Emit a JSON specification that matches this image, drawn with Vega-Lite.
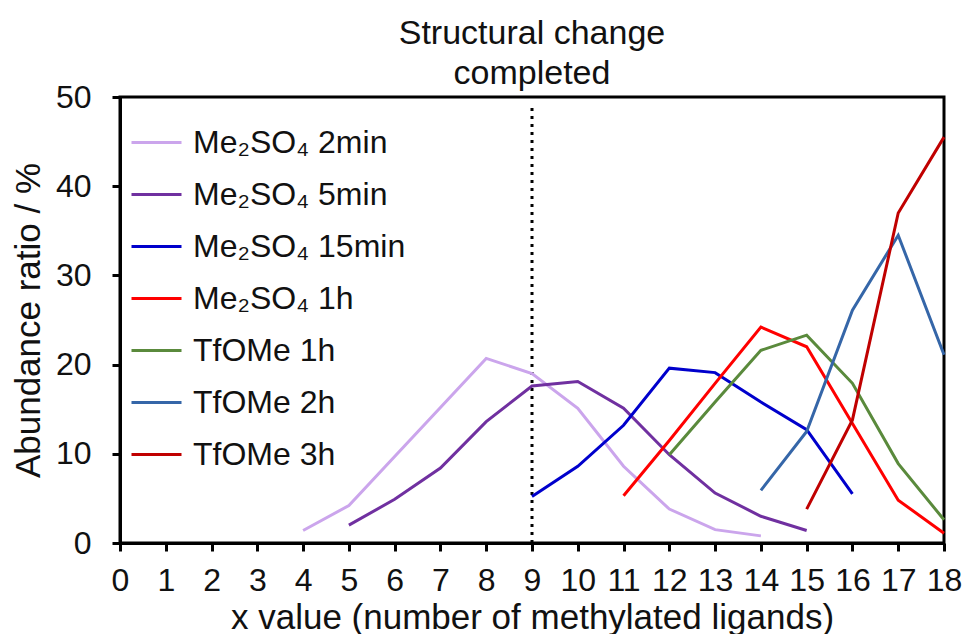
{
  "$schema": "https://vega.github.io/schema/vega-lite/v6.json",
  "width": 824,
  "height": 446,
  "autosize": {"type": "none"},
  "padding": {"left": 120, "top": 97, "right": 20, "bottom": 91},
  "background": "white",
  "config": {
    "font": "Liberation Sans",
    "view": {"stroke": "black", "strokeWidth": 3},
    "axis": {
      "grid": false,
      "domainColor": "black",
      "domainWidth": 3,
      "tickColor": "black",
      "tickWidth": 3,
      "tickSize": 8,
      "labelFont": "Liberation Sans",
      "labelFontSize": 32,
      "labelColor": "#111",
      "titleFont": "Liberation Sans",
      "titleFontSize": 35,
      "titleFontWeight": "normal",
      "titleColor": "#111"
    },
    "legend": {
      "labelFont": "Liberation Sans",
      "labelFontSize": 32,
      "labelColor": "#111",
      "labelLimit": 500
    }
  },
  "datasets": {
    "abundance": [
      {"series": "Me₂SO₄ 2min", "x": 4, "y": 1.4},
      {"series": "Me₂SO₄ 2min", "x": 5, "y": 4.2},
      {"series": "Me₂SO₄ 2min", "x": 6, "y": 9.7},
      {"series": "Me₂SO₄ 2min", "x": 7, "y": 15.2},
      {"series": "Me₂SO₄ 2min", "x": 8, "y": 20.7},
      {"series": "Me₂SO₄ 2min", "x": 9, "y": 19.0},
      {"series": "Me₂SO₄ 2min", "x": 10, "y": 15.1},
      {"series": "Me₂SO₄ 2min", "x": 11, "y": 8.6},
      {"series": "Me₂SO₄ 2min", "x": 12, "y": 3.8},
      {"series": "Me₂SO₄ 2min", "x": 13, "y": 1.5},
      {"series": "Me₂SO₄ 2min", "x": 14, "y": 0.8},
      {"series": "Me₂SO₄ 5min", "x": 5, "y": 2.0},
      {"series": "Me₂SO₄ 5min", "x": 6, "y": 4.9},
      {"series": "Me₂SO₄ 5min", "x": 7, "y": 8.4},
      {"series": "Me₂SO₄ 5min", "x": 8, "y": 13.6},
      {"series": "Me₂SO₄ 5min", "x": 9, "y": 17.6},
      {"series": "Me₂SO₄ 5min", "x": 10, "y": 18.1},
      {"series": "Me₂SO₄ 5min", "x": 11, "y": 15.1},
      {"series": "Me₂SO₄ 5min", "x": 12, "y": 9.9},
      {"series": "Me₂SO₄ 5min", "x": 13, "y": 5.6},
      {"series": "Me₂SO₄ 5min", "x": 14, "y": 3.0},
      {"series": "Me₂SO₄ 5min", "x": 15, "y": 1.4},
      {"series": "Me₂SO₄ 15min", "x": 9, "y": 5.2},
      {"series": "Me₂SO₄ 15min", "x": 10, "y": 8.6},
      {"series": "Me₂SO₄ 15min", "x": 11, "y": 13.2},
      {"series": "Me₂SO₄ 15min", "x": 12, "y": 19.6},
      {"series": "Me₂SO₄ 15min", "x": 13, "y": 19.1},
      {"series": "Me₂SO₄ 15min", "x": 14, "y": 15.8},
      {"series": "Me₂SO₄ 15min", "x": 15, "y": 12.7},
      {"series": "Me₂SO₄ 15min", "x": 16, "y": 5.5},
      {"series": "Me₂SO₄ 1h", "x": 11, "y": 5.3},
      {"series": "Me₂SO₄ 1h", "x": 12, "y": 11.5},
      {"series": "Me₂SO₄ 1h", "x": 13, "y": 17.9},
      {"series": "Me₂SO₄ 1h", "x": 14, "y": 24.2},
      {"series": "Me₂SO₄ 1h", "x": 15, "y": 22.0},
      {"series": "Me₂SO₄ 1h", "x": 16, "y": 13.4},
      {"series": "Me₂SO₄ 1h", "x": 17, "y": 4.8},
      {"series": "Me₂SO₄ 1h", "x": 18, "y": 1.1},
      {"series": "TfOMe  1h", "x": 12, "y": 9.9},
      {"series": "TfOMe  1h", "x": 13, "y": 15.8},
      {"series": "TfOMe  1h", "x": 14, "y": 21.6},
      {"series": "TfOMe  1h", "x": 15, "y": 23.3},
      {"series": "TfOMe  1h", "x": 16, "y": 17.9},
      {"series": "TfOMe  1h", "x": 17, "y": 8.9},
      {"series": "TfOMe  1h", "x": 18, "y": 2.6},
      {"series": "TfOMe  2h", "x": 14, "y": 5.9},
      {"series": "TfOMe  2h", "x": 15, "y": 12.5},
      {"series": "TfOMe  2h", "x": 16, "y": 26.1},
      {"series": "TfOMe  2h", "x": 17, "y": 34.5},
      {"series": "TfOMe  2h", "x": 18, "y": 21.1},
      {"series": "TfOMe  3h", "x": 15, "y": 3.8},
      {"series": "TfOMe  3h", "x": 16, "y": 13.8},
      {"series": "TfOMe  3h", "x": 17, "y": 37.0},
      {"series": "TfOMe  3h", "x": 18, "y": 45.5}
    ]
  },
  "layer": [
    {
      "data": {"values": [{"x": 9, "y0": 0, "y1": 49.2}]},
      "mark": {"type": "rule", "color": "black", "strokeWidth": 3, "strokeDash": [3, 5]},
      "encoding": {
        "x": {"field": "x", "type": "quantitative"},
        "y": {"field": "y0", "type": "quantitative"},
        "y2": {"field": "y1"}
      }
    },
    {
      "data": {"name": "abundance"},
      "mark": {"type": "line", "strokeWidth": 3, "clip": false},
      "encoding": {
        "x": {
          "field": "x",
          "type": "quantitative",
          "scale": {"domain": [0, 18], "nice": false},
          "axis": {
            "values": [0,1,2,3,4,5,6,7,8,9,10,11,12,13,14,15,16,17,18],
            "labelPadding": 14,
            "title": "x value (number of methylated ligands)",
            "titlePadding": 4,
            "labelFlush": false,
            "labelOverlap": false
          }
        },
        "y": {
          "field": "y",
          "type": "quantitative",
          "scale": {"domain": [0, 50], "nice": false},
          "axis": {
            "values": [0, 10, 20, 30, 40, 50],
            "labelPadding": 21,
            "title": "Abundance ratio / %",
            "titlePadding": 9,
            "labelFlush": false
          }
        },
        "color": {
          "field": "series",
          "type": "nominal",
          "scale": {
            "domain": ["Me₂SO₄ 2min", "Me₂SO₄ 5min", "Me₂SO₄ 15min", "Me₂SO₄ 1h", "TfOMe  1h", "TfOMe  2h", "TfOMe  3h"],
            "range": ["#cba5ec", "#7030a0", "#0000cc", "#ff0000", "#5a8a3c", "#3566a8", "#c00000"]
          },
          "legend": {
            "title": null,
            "orient": "none",
            "legendX": 10,
            "legendY": 19,
            "symbolType": "stroke",
            "symbolSize": 2500,
            "symbolStrokeWidth": 3,
            "labelOffset": 10,
            "rowPadding": 9,
            "padding": 0
          }
        }
      }
    },
    {
      "data": {"values": [{"x": 9, "y": 50, "label": ["Structural change", "completed"]}]},
      "mark": {
        "type": "text",
        "fontSize": 34,
        "font": "Liberation Sans",
        "color": "#111",
        "align": "center",
        "baseline": "bottom",
        "lineHeight": 40,
        "dy": -46
      },
      "encoding": {
        "x": {"field": "x", "type": "quantitative"},
        "y": {"field": "y", "type": "quantitative"},
        "text": {"field": "label"}
      }
    }
  ]
}
